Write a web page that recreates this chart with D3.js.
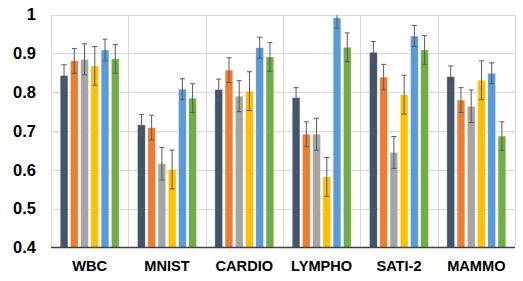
<!DOCTYPE html>
<html>
<head>
<meta charset="utf-8">
<script src="https://cdn.jsdelivr.net/npm/d3@7"></script>
<style>
  html, body { margin: 0; padding: 0; background: #fff; }
  text { font-family: "Liberation Sans", Arial, sans-serif; font-weight: bold; fill: #000; }
</style>
</head>
<body>
<div id="chart"></div>
<script>
// datasets on the x axis
var categories = ["WBC", "MNIST", "CARDIO", "LYMPHO", "SATI-2", "MAMMO"];
var seriesNames = ["s1", "s2", "s3", "s4", "s5", "s6"];
var colors = ["#44546A", "#ED7D31", "#A5A5A5", "#FFC000", "#5B9BD5", "#70AD47"];

// mean values, one array per series
var s1 = [0.843, 0.716, 0.807, 0.786, 0.903, 0.840];
var s2 = [0.881, 0.709, 0.857, 0.692, 0.839, 0.780];
var s3 = [0.885, 0.616, 0.790, 0.692, 0.645, 0.764];
var s4 = [0.868, 0.601, 0.803, 0.582, 0.794, 0.831];
var s5 = [0.909, 0.808, 0.915, 0.992, 0.945, 0.849];
var s6 = [0.886, 0.785, 0.891, 0.916, 0.909, 0.687];

// error bar half widths
var e1 = [0.028, 0.027, 0.027, 0.026, 0.028, 0.028];
var e2 = [0.032, 0.032, 0.032, 0.032, 0.033, 0.032];
var e3 = [0.040, 0.042, 0.040, 0.041, 0.041, 0.042];
var e4 = [0.050, 0.050, 0.050, 0.050, 0.050, 0.050];
var e5 = [0.028, 0.027, 0.027, 0.027, 0.027, 0.027];
var e6 = [0.037, 0.037, 0.037, 0.037, 0.037, 0.037];

var yTicks = [0.4, 0.5, 0.6, 0.7, 0.8, 0.9, 1];

var values = [s1, s2, s3, s4, s5, s6];
var errors = [e1, e2, e3, e4, e5, e6];

var width = 523, height = 281;
var margin = { top: 14.7, right: 8, bottom: 33.5, left: 51 };

var svg = d3.select("#chart").append("svg")
    .attr("width", width)
    .attr("height", height);

var x0 = d3.scaleBand()
    .domain(categories)
    .range([margin.left, width - margin.right])
    .padding(0);

var x1 = d3.scaleBand()
    .domain(seriesNames)
    .range([0, x0.bandwidth()])
    .paddingInner(0.25)
    .paddingOuter(0.9);

var y = d3.scaleLinear()
    .domain([0.4, 1])
    .range([height - margin.bottom, margin.top]);

// clip so error bars stop at the top of the plot
svg.append("clipPath").attr("id", "plotClip")
    .append("rect")
    .attr("x", margin.left)
    .attr("y", margin.top)
    .attr("width", width - margin.left - margin.right)
    .attr("height", height - margin.top - margin.bottom);

// horizontal gridlines
svg.append("g")
    .selectAll("line")
    .data(yTicks.slice(1))
    .enter().append("line")
    .attr("x1", margin.left)
    .attr("x2", width - margin.right)
    .attr("y1", function (d) { return Math.round(y(d)) + 0.5; })
    .attr("y2", function (d) { return Math.round(y(d)) + 0.5; })
    .attr("stroke", "#d9d9d9")
    .attr("stroke-width", 1);

// vertical gridlines between categories
var bounds = categories.map(function (c) { return x0(c); });
bounds.push(width - margin.right);
svg.append("g")
    .selectAll("line")
    .data(bounds)
    .enter().append("line")
    .attr("x1", function (d) { return Math.round(d) + 0.5; })
    .attr("x2", function (d) { return Math.round(d) + 0.5; })
    .attr("y1", y(1))
    .attr("y2", y(0.4))
    .attr("stroke", "#d9d9d9")
    .attr("stroke-width", 1);

// bars
var groups = svg.append("g")
    .selectAll("g")
    .data(categories)
    .enter().append("g")
    .attr("transform", function (d) { return "translate(" + x0(d) + ",0)"; });

groups.selectAll("rect")
    .data(function (d, i) {
        return seriesNames.map(function (s, j) {
            return { s: s, v: values[j][i], e: errors[j][i], c: colors[j] };
        });
    })
    .enter().append("rect")
    .attr("x", function (d) { return x1(d.s); })
    .attr("width", x1.bandwidth())
    .attr("y", function (d) { return y(d.v); })
    .attr("height", function (d) { return y(0.4) - y(d.v); })
    .attr("fill", function (d) { return d.c; })
    .attr("stroke", "#ffffff")
    .attr("stroke-opacity", 0.5)
    .attr("stroke-width", 0.6);

// error bars
var errData = function (d, i) {
    return seriesNames.map(function (s, j) {
        return { s: s, v: values[j][i], e: errors[j][i], off: x0(d) };
    });
};
groups.each(function (cat, i) {
    var g = svg.append("g").attr("clip-path", "url(#plotClip)");
    var eb = g.selectAll("g.err")
        .data(errData(cat, i))
        .enter().append("g")
        .attr("class", "err")
        .attr("transform", function (d) { return "translate(" + (d.off + x1(d.s) + x1.bandwidth() / 2) + ",0)"; });
    eb.append("line")
        .attr("x1", 0).attr("x2", 0)
        .attr("y1", function (d) { return y(d.v + d.e); })
        .attr("y2", function (d) { return y(d.v - d.e); });
    eb.append("line")
        .attr("x1", -2.5).attr("x2", 2.5)
        .attr("y1", function (d) { return y(d.v + d.e); })
        .attr("y2", function (d) { return y(d.v + d.e); });
    eb.append("line")
        .attr("x1", -2.5).attr("x2", 2.5)
        .attr("y1", function (d) { return y(d.v - d.e); })
        .attr("y2", function (d) { return y(d.v - d.e); });
    eb.selectAll("line")
        .attr("stroke", "#595959")
        .attr("stroke-width", 1);
});

// bottom axis line
svg.append("line")
    .attr("x1", margin.left)
    .attr("x2", width - margin.right)
    .attr("y1", y(0.4))
    .attr("y2", y(0.4))
    .attr("stroke", "#404040")
    .attr("stroke-width", 1.5);

// y labels
svg.append("g")
    .selectAll("text")
    .data(yTicks)
    .enter().append("text")
    .attr("x", 36)
    .attr("y", function (d) { return y(d); })
    .attr("dy", "0.35em")
    .attr("text-anchor", "end")
    .style("font-size", "16.5px")
    .text(function (d) { return d; });

// x labels
svg.append("g")
    .selectAll("text")
    .data(categories)
    .enter().append("text")
    .attr("x", function (d) { return x0(d) + x0.bandwidth() / 2; })
    .attr("y", 270.5)
    .attr("text-anchor", "middle")
    .style("font-size", "14.6px")
    .text(function (d) { return d; });
</script>
</body>
</html>
